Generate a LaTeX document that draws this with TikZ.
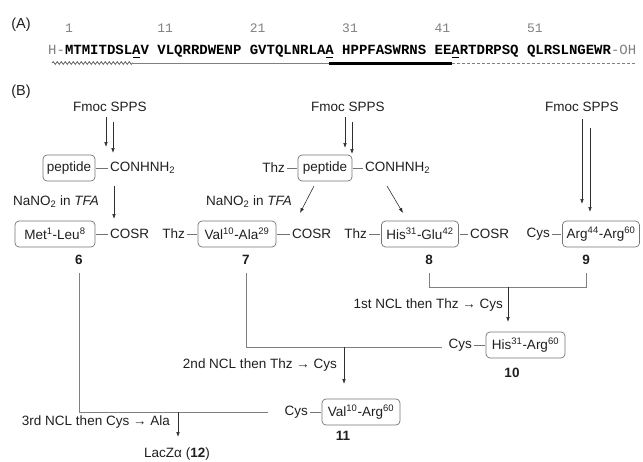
\documentclass[tikz,border=0pt]{standalone}
\usepackage{fontspec}
\setmainfont{Liberation Sans}
\setmonofont{Liberation Mono}
\usetikzlibrary{arrows.meta,decorations.pathmorphing}
\definecolor{txt}{gray}{0.12}
\definecolor{boxc}{gray}{0.45}
\definecolor{linec}{gray}{0.5}
\definecolor{arrc}{gray}{0.18}
\definecolor{seqgray}{gray}{0.5}
\newcommand\mainsz{\fontsize{13.5}{16}\selectfont}
\tikzset{
  lbl/.style={inner sep=1pt, font=\mainsz, text=txt},
  cpd/.style={inner sep=1pt, font=\mainsz\bfseries, text=txt},
  pbox/.style={draw=boxc, rounded corners=4pt, line width=0.7pt, minimum height=26pt, inner xsep=2pt, font=\mainsz, text=txt},
  bond/.style={draw=boxc, line width=0.7pt, shorten <=1pt, shorten >=1pt},
  link/.style={draw=linec, line width=0.8pt},
  arr/.style={draw=arrc, line width=0.6pt, -{Latex[length=5pt,width=3.6pt]}},
  num/.style={inner sep=0pt, font=\ttfamily\fontsize{13}{14}\selectfont, text=seqgray},
}
\begin{document}
\begin{tikzpicture}[x=1pt,y=-1pt]
\useasboundingbox (0,0) rectangle (643,461);

% ---------- (A) ----------
\node[lbl,font=\fontsize{14.5}{16}\selectfont] (labA) at (21,25) {(A)};
\node[inner sep=0pt, anchor=base west, font=\ttfamily\fontsize{14}{16}\selectfont, text=black] (seq) at (48,54)
  {\textcolor{seqgray}{H-}\textbf{MTMITDSLAV VLQRRDWENP GVTQLNRLAA HPPFASWRNS EEARTDRPSQ QLRSLNGEWR}\textcolor{seqgray}{-OH}};
\foreach \i/\n in {2/1,13/11,24/21,35/31,46/41,57/51}
  \node[num, anchor=base west] (n\n) at ({48+\i*8.4},32) {\n};
\foreach \i in {10,33,48}
  \draw[line width=1.3pt] ({48+\i*8.4+0.8},57.5) -- ({48+\i*8.4+7.6},57.5);
\coordinate (s0) at (52,63);
\coordinate (s1) at (133,63);
\coordinate (s2) at (329,63);
\coordinate (s3) at (452,63);
\coordinate (s4) at (636,63);
\draw[gray!70!black, line width=0.7pt, decorate, decoration={snake, amplitude=1.4pt, segment length=4pt}] (s0) -- (s1);
\draw[linec, line width=0.8pt] (s1) -- (s2);
\draw[black, line width=3pt] (s2) -- (s3);
\draw[linec, line width=0.8pt, dash pattern=on 3pt off 2pt] (s3) -- (s4);

% ---------- (B) ----------
\node[lbl,font=\fontsize{14.5}{16}\selectfont] (labB) at (21,92) {(B)};

\node[lbl] (fmoc1) at (110,107) {Fmoc SPPS};
\node[lbl] (fmoc2) at (348,107) {Fmoc SPPS};
\node[lbl] (fmoc3) at (582,107) {Fmoc SPPS};

% row 1
\node[pbox, minimum width=52pt] (pep1) at (69,168) {peptide};
\node[lbl, anchor=west] (conh1) at (109,168) {CONHNH\textsubscript{2}};
\draw[bond] (pep1.east) -- (conh1.west);
\node[pbox, minimum width=54pt] (pep2) at (325,168) {peptide};
\node[lbl, anchor=east] (thz0) at (286,168) {Thz};
\node[lbl, anchor=west] (conh2) at (364,168) {CONHNH\textsubscript{2}};
\draw[bond] (thz0.east) -- (pep2.west);
\draw[bond] (pep2.east) -- (conh2.west);

% SPPS arrows
\coordinate (f1a) at (106,117); \coordinate (f1b) at (106,147);
\coordinate (f1c) at (113,122); \coordinate (f1d) at (113,153);
\coordinate (f2a) at (345,117); \coordinate (f2b) at (345,148);
\coordinate (f2c) at (352,122); \coordinate (f2d) at (352,154);
\coordinate (f3a) at (582,119); \coordinate (f3b) at (582,204);
\coordinate (f3c) at (590,128); \coordinate (f3d) at (590,212);
\draw[arr] (f1a) -- (f1b);
\draw[arr] (f1c) -- (f1d);
\draw[arr] (f2a) -- (f2b);
\draw[arr] (f2c) -- (f2d);
\draw[arr] (f3a) -- (f3b);
\draw[arr] (f3c) -- (f3d);

% NaNO2 arrows
\node[lbl] (na1) at (56,202) {NaNO\textsubscript{2} in \textit{TFA}};
\node[lbl, anchor=east] (na2) at (293,202) {NaNO\textsubscript{2} in \textit{TFA}};
\coordinate (h1a) at (114,186); \coordinate (h1b) at (114,219);
\draw[arr] (h1a) -- (h1b);
\coordinate (h2a) at (314,186); \coordinate (h2b) at (300,213);
\coordinate (h3a) at (387,186); \coordinate (h3b) at (403,213);
\draw[arr] (h2a) -- (h2b);
\draw[arr] (h3a) -- (h3b);

% row 2
\node[pbox, minimum width=80pt] (met) at (55,234) {Met\textsuperscript{1}-Leu\textsuperscript{8}};
\node[lbl, anchor=west] (cosr1) at (109,234) {COSR};
\draw[bond] (met.east) -- (cosr1.west);
\node[pbox, minimum width=78pt] (val) at (237,234) {Val\textsuperscript{10}-Ala\textsuperscript{29}};
\node[lbl, anchor=east] (thz1) at (186,234) {Thz};
\node[lbl, anchor=west] (cosr2) at (291,234) {COSR};
\draw[bond] (thz1.east) -- (val.west);
\draw[bond] (val.east) -- (cosr2.west);
\node[pbox, minimum width=77pt] (his) at (420,234) {His\textsuperscript{31}-Glu\textsuperscript{42}};
\node[lbl, anchor=east] (thz2) at (368,234) {Thz};
\node[lbl, anchor=west] (cosr3) at (469,234) {COSR};
\draw[bond] (thz2.east) -- (his.west);
\draw[bond] (his.east) -- (cosr3.west);
\node[pbox, minimum width=77pt] (arg) at (601,234) {Arg\textsuperscript{44}-Arg\textsuperscript{60}};
\node[lbl, anchor=east] (cys1) at (551,234) {Cys};
\draw[bond] (cys1.east) -- (arg.west);

\node[cpd] (l6) at (79,260) {6};
\node[cpd] (l7) at (246,260) {7};
\node[cpd] (l8) at (429,260) {8};
\node[cpd] (l9) at (586,260) {9};

% first ligation
\coordinate (b8t) at (429,273);
\coordinate (b9t) at (586,273);
\coordinate (b8) at (429,287);
\coordinate (b9) at (586,287);
\coordinate (bm) at (508,287);
\coordinate (bme) at (508,322);
\draw[link] (b8t) -- (b8) -- (b9) -- (b9t);
\draw[arr] (bm) -- (bme);
\node[lbl, anchor=east] (ncl1) at (504,305) {1st NCL then Thz → Cys};

% compound 10
\node[pbox, minimum width=79pt] (hisarg) at (525.5,345) {His\textsuperscript{31}-Arg\textsuperscript{60}};
\node[lbl, anchor=east] (cys2) at (473,345) {Cys};
\draw[bond] (cys2.east) -- (hisarg.west);
\node[cpd] (l10) at (512,373) {10};

% second ligation
\coordinate (c7) at (246,273);
\coordinate (c7b) at (246,347);
\coordinate (c10) at (442,347);
\coordinate (cm) at (344,347);
\coordinate (cme) at (344,384);
\draw[link] (c7) -- (c7b) -- (c10);
\draw[arr] (cm) -- (cme);
\node[lbl, anchor=east] (ncl2) at (338,365) {2nd NCL then Thz → Cys};

% compound 11
\node[pbox, minimum width=78pt] (valarg) at (361,412) {Val\textsuperscript{10}-Arg\textsuperscript{60}};
\node[lbl, anchor=east] (cys3) at (309,412) {Cys};
\draw[bond] (cys3.east) -- (valarg.west);
\node[cpd] (l11) at (343,436) {11};

% third ligation
\coordinate (d6) at (79,273);
\coordinate (d6b) at (79,412);
\coordinate (d11) at (268,412);
\coordinate (dm) at (178,412);
\coordinate (dme) at (178,437);
\draw[link] (d6) -- (d6b) -- (d11);
\draw[arr] (dm) -- (dme);
\node[lbl, anchor=east] (ncl3) at (171,422) {3rd NCL then Cys → Ala};
\node[lbl] (lacz) at (177,454) {LacZα (\textbf{12})};
\end{tikzpicture}
\end{document}
